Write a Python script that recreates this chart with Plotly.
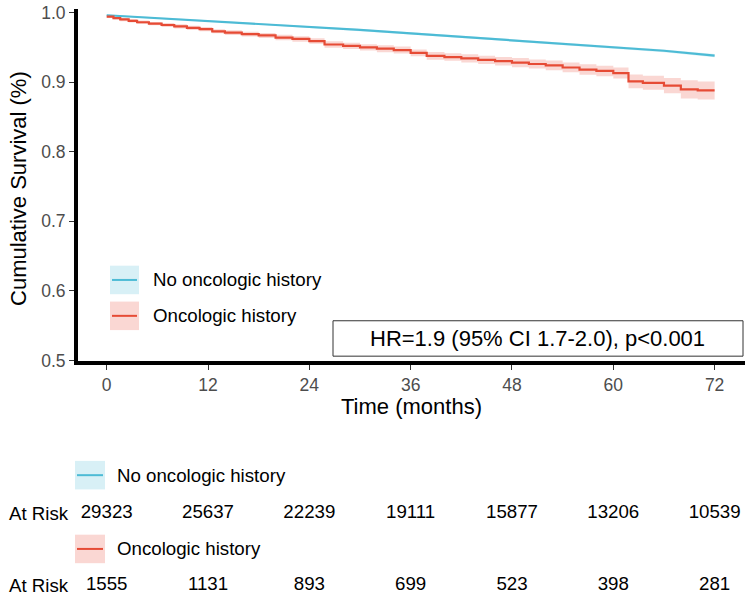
import plotly.graph_objects as go

# ---------------- data ----------------
blue_time = [0, 6, 12, 18, 24, 30, 36, 42, 48, 54, 60, 66, 72]
blue_surv = [0.996, 0.992, 0.988, 0.984, 0.979, 0.975, 0.970, 0.965, 0.960, 0.955, 0.950, 0.945, 0.938]
blue_lower = [0.995, 0.991, 0.987, 0.9828, 0.9777, 0.9736, 0.9685, 0.9634, 0.9583, 0.9532, 0.9481, 0.943, 0.9357]
blue_upper = [0.997, 0.993, 0.989, 0.9852, 0.9803, 0.9764, 0.9715, 0.9666, 0.9617, 0.9568, 0.9519, 0.947, 0.9403]

red_time = [0, 0.8, 1.6, 2.6, 3.6, 5, 6.5, 8, 9.5, 11, 12.5, 14, 16, 18, 20, 22, 24, 25.8, 28, 30,
            32, 34, 36, 37.9, 40, 42, 44, 46, 48, 50, 52, 54, 56, 58, 60, 61.8, 63.5, 66, 68, 70, 72]
red_surv = [0.994, 0.992, 0.990, 0.988, 0.986, 0.984, 0.982, 0.980, 0.978, 0.976, 0.973, 0.971, 0.969,
            0.967, 0.964, 0.962, 0.959, 0.954, 0.952, 0.950, 0.948, 0.946, 0.942, 0.9376, 0.936, 0.934,
            0.932, 0.930, 0.928, 0.926, 0.924, 0.921, 0.918, 0.916, 0.913, 0.901, 0.899, 0.895, 0.8895,
            0.888, 0.888]
red_lower = [0.992, 0.990, 0.9875, 0.9855, 0.9835, 0.9815, 0.979, 0.977, 0.975, 0.973, 0.970, 0.9675,
             0.9655, 0.9635, 0.960, 0.958, 0.955, 0.9495, 0.9475, 0.9455, 0.943, 0.941, 0.937, 0.9321,
             0.9305, 0.928, 0.926, 0.924, 0.9215, 0.9195, 0.917, 0.914, 0.9105, 0.9085, 0.905, 0.891,
             0.889, 0.884, 0.8765, 0.875, 0.875]
red_upper = [0.996, 0.994, 0.9925, 0.9905, 0.9885, 0.9865, 0.985, 0.983, 0.981, 0.979, 0.976, 0.9745,
             0.9725, 0.9705, 0.968, 0.966, 0.963, 0.9585, 0.9565, 0.9545, 0.953, 0.951, 0.947, 0.9431,
             0.9415, 0.940, 0.938, 0.936, 0.9345, 0.9325, 0.931, 0.928, 0.9255, 0.9235, 0.921, 0.911,
             0.909, 0.906, 0.9025, 0.901, 0.901]

risk_times = [0, 12, 24, 36, 48, 60, 72]
risk_no = [29323, 25637, 22239, 19111, 15877, 13206, 10539]
risk_onc = [1555, 1131, 893, 699, 523, 398, 281]

x_ticks = [0, 12, 24, 36, 48, 60, 72]
y_ticks = [0.5, 0.6, 0.7, 0.8, 0.9, 1.0]

group_names = ["No oncologic history", "Oncologic history"]
hr_text = "HR=1.9 (95% CI 1.7-2.0), p<0.001"

# ---------------- styling ----------------
BLUE = "#4DBBD5"
RED = "#E64B35"
BLUE_FILL = "rgba(77,187,213,0.22)"
RED_FILL = "rgba(230,75,53,0.22)"
FONT = "Liberation Sans, Arial, Helvetica, sans-serif"
TXT = 18.7
TICK = 17.5
TITLE = 22

W, H = 752, 614
ML, MR, MT, MB = 78, 7, 9, 0
PW = W - ML - MR
PH = H - MT - MB


def px(x):
    return (x - ML) / PW


def py(y):
    return (H - MB - y) / PH


fig = go.Figure()

# blue CI band
fig.add_trace(go.Scatter(x=blue_time, y=blue_lower, mode="lines", line=dict(width=0),
                         hoverinfo="skip", showlegend=False))
fig.add_trace(go.Scatter(x=blue_time, y=blue_upper, mode="lines", line=dict(width=0),
                         fill="tonexty", fillcolor=BLUE_FILL, hoverinfo="skip", showlegend=False))
# red CI band
fig.add_trace(go.Scatter(x=red_time, y=red_lower, mode="lines", line=dict(width=0, shape="hv"),
                         hoverinfo="skip", showlegend=False))
fig.add_trace(go.Scatter(x=red_time, y=red_upper, mode="lines", line=dict(width=0, shape="hv"),
                         fill="tonexty", fillcolor=RED_FILL, hoverinfo="skip", showlegend=False))
# survival curves
fig.add_trace(go.Scatter(x=blue_time, y=blue_surv, mode="lines", line=dict(color=BLUE, width=2.2),
                         name=group_names[0], showlegend=False))
fig.add_trace(go.Scatter(x=red_time, y=red_surv, mode="lines", line=dict(color=RED, width=2.2, shape="hv"),
                         name=group_names[1], showlegend=False))

# risk table numbers
ROW1_Y, ROW2_Y = 522, 595
fig.add_trace(go.Scatter(x=risk_times, y=[ROW1_Y] * len(risk_times), mode="text",
                         text=[str(v) for v in risk_no], textfont=dict(size=TXT, color="black", family=FONT),
                         xaxis="x2", yaxis="y2", showlegend=False, cliponaxis=False, hoverinfo="skip"))
fig.add_trace(go.Scatter(x=risk_times, y=[ROW2_Y] * len(risk_times), mode="text",
                         text=[str(v) for v in risk_onc], textfont=dict(size=TXT, color="black", family=FONT),
                         xaxis="x2", yaxis="y2", showlegend=False, cliponaxis=False, hoverinfo="skip"))

shapes = []
annotations = []

# in-plot legend
for (yc, fillc, linec, name) in [(284.5, BLUE_FILL, BLUE, group_names[0]), (321, RED_FILL, RED, group_names[1])]:
    shapes.append(dict(type="rect", xref="paper", yref="paper", x0=px(110), x1=px(139),
                       y0=py(yc + 14.5), y1=py(yc - 14.5), fillcolor=fillc, line=dict(width=0)))
    shapes.append(dict(type="line", xref="paper", yref="paper", x0=px(112), x1=px(137),
                       y0=py(yc), y1=py(yc), line=dict(color=linec, width=2)))
    annotations.append(dict(xref="paper", yref="paper", x=px(151), y=py(yc), text=name, showarrow=False,
                            xanchor="left", yanchor="middle", font=dict(size=TXT, color="black", family=FONT)))

# risk-table group headers
for (yc, fillc, linec, name) in [(483, BLUE_FILL, BLUE, group_names[0]), (558, RED_FILL, RED, group_names[1])]:
    shapes.append(dict(type="rect", xref="paper", yref="paper", x0=px(75), x1=px(105),
                       y0=py(yc + 14.5), y1=py(yc - 14.5), fillcolor=fillc, line=dict(width=0)))
    shapes.append(dict(type="line", xref="paper", yref="paper", x0=px(77), x1=px(103),
                       y0=py(yc), y1=py(yc), line=dict(color=linec, width=2)))
    annotations.append(dict(xref="paper", yref="paper", x=px(115), y=py(yc), text=name, showarrow=False,
                            xanchor="left", yanchor="middle", font=dict(size=TXT, color="black", family=FONT)))

for yc in [ROW1_Y, ROW2_Y]:
    annotations.append(dict(xref="paper", yref="paper", x=px(7), y=py(yc), text="At Risk", showarrow=False,
                            xanchor="left", yanchor="middle", font=dict(size=TXT, color="black", family=FONT)))

# HR box
shapes.append(dict(type="rect", xref="paper", yref="paper", x0=px(333), x1=px(743), y0=py(362), y1=py(326),
                   fillcolor="white", line=dict(color="#333333", width=1), layer="above"))
annotations.append(dict(xref="paper", yref="paper", x=px(537), y=py(344), text=hr_text, showarrow=False,
                        xanchor="center", yanchor="middle", font=dict(size=TITLE, color="black", family=FONT)))

# axis titles
annotations.append(dict(xref="paper", yref="paper", x=px(411), y=py(413), text="Time (months)", showarrow=False,
                        xanchor="center", yanchor="middle", font=dict(size=TITLE, color="black", family=FONT)))
annotations.append(dict(xref="paper", yref="paper", x=px(19), y=py(192), text="Cumulative Survival (%)",
                        showarrow=False, textangle=-90, xanchor="center", yanchor="middle",
                        font=dict(size=TITLE, color="black", family=FONT)))

y_dom0 = py(366.5)

fig.update_layout(
    width=W, height=H,
    margin=dict(l=ML, r=MR, t=MT, b=MB),
    paper_bgcolor="white", plot_bgcolor="white",
    font=dict(family=FONT),
    showlegend=False,
    shapes=shapes,
    annotations=annotations,
    xaxis=dict(domain=[0, 1], range=[-3.4, 75.6], tickvals=x_ticks, ticktext=[str(t) for t in x_ticks],
               showgrid=False, zeroline=False, showline=True, linecolor="black", linewidth=4,
               ticks="outside", ticklen=5, tickwidth=1, tickcolor="#333333",
               tickfont=dict(size=TICK, color="#4D4D4D", family=FONT), anchor="y"),
    yaxis=dict(domain=[y_dom0, 1], range=[0.5, 1.005], tickvals=y_ticks,
               ticktext=["%.1f" % v for v in y_ticks],
               showgrid=False, zeroline=False, showline=True, linecolor="black", linewidth=4,
               ticks="outside", ticklen=5, tickwidth=1, tickcolor="#333333",
               tickfont=dict(size=TICK, color="#4D4D4D", family=FONT), anchor="x"),
    xaxis2=dict(domain=[0, 1], matches="x", anchor="y2", visible=False, showgrid=False, zeroline=False),
    yaxis2=dict(domain=[0, py(432)], range=[H - MB, 432], anchor="x2", visible=False,
                showgrid=False, zeroline=False),
)

fig.write_html("out.html")
